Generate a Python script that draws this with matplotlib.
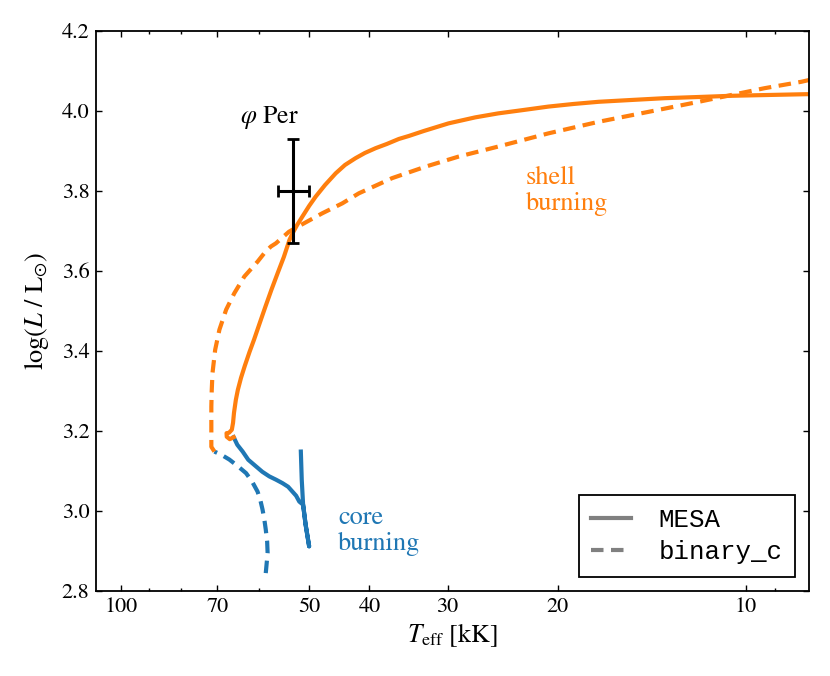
import numpy as np
import matplotlib
matplotlib.use('Agg')
import matplotlib.pyplot as plt
from matplotlib.ticker import FixedLocator, FixedFormatter, NullFormatter

matplotlib.rcParams['font.family'] = 'STIXGeneral'
matplotlib.rcParams['mathtext.fontset'] = 'stix'

# ── track data: Teff in kK, log L / Lsun ─────────────────────────────
# MESA, core burning (blue, solid)
mesa_core_T = [51.5, 51.33, 51.07, 50.6, 49.95, 50.6, 51.07, 51.8, 52.4, 53.97,
               55.1, 56.4, 57.85, 59.35, 60.75, 62.5, 63.8, 65.07, 65.95]
mesa_core_L = [3.148, 3.078, 3.015, 2.965, 2.911, 2.965, 3.015, 3.023, 3.0375,
               3.06, 3.069, 3.0775, 3.086, 3.0975, 3.111, 3.1275, 3.148, 3.165,
               3.184]

# MESA, shell burning (orange, solid)
mesa_shell_T = [65.95, 66.9, 67.65, 67.7, 67.1, 66.4, 66.1, 65.87, 65.42, 64.94,
                64.19, 63.3, 62.2, 61.2, 59.9, 58.66, 57.4, 56.1, 54.82, 53.7,
                53.1, 52.2, 51.2, 49.95, 48.75, 47.1, 45.3, 43.77, 42.1, 40.68,
                39.1, 37.52, 35.9, 34.6, 32.74, 29.9, 27.1, 24.9, 22.68, 20.7,
                18.88, 17.2, 15.26, 13.5, 11.9, 10.55, 9.22, 8.01, 7.9]
mesa_shell_L = [3.184, 3.179, 3.185, 3.194, 3.195, 3.2025, 3.22, 3.245, 3.2775,
                3.3025, 3.3325, 3.3625, 3.3975, 3.4275, 3.47, 3.511, 3.5525, 3.594,
                3.635, 3.6775, 3.694, 3.715, 3.736, 3.7625, 3.786, 3.815, 3.844,
                3.865, 3.882, 3.895, 3.907, 3.9175, 3.93, 3.9375, 3.95, 3.969,
                3.984, 3.994, 4.0025, 4.011, 4.0175, 4.023, 4.0275, 4.032, 4.035,
                4.038, 4.04, 4.042, 4.042]

# binary_c, core burning (blue, dashed)
bc_core_T = [58.6, 58.2, 58.3, 58.6, 58.9, 59.3, 59.8, 60.4, 61.6, 63.0, 65.07,
             67.0, 69.0, 70.8]
bc_core_L = [2.844, 2.894, 2.9225, 2.953, 2.9775, 3.003, 3.0275, 3.048, 3.0725,
             3.094, 3.1125, 3.128, 3.14, 3.148]

# binary_c, shell burning (orange, dashed)
bc_shell_T = [70.8, 71.6, 71.6, 71.6, 71.5, 71.3, 70.6, 69.5, 67.8, 65.8, 63.4,
              60.4, 58.7, 57.5, 56.45, 53.8, 51.8, 47.6, 44.2, 41.6, 36.8, 32.5,
              28.8, 24.9, 20.7, 17.2, 14.3, 11.9, 10.55, 9.34, 8.16, 7.9]
bc_shell_L = [3.148, 3.16, 3.21, 3.26, 3.30, 3.344, 3.4025, 3.453, 3.503, 3.544,
              3.586, 3.623, 3.6475, 3.661, 3.669, 3.698, 3.7125, 3.744, 3.769,
              3.794, 3.832, 3.861, 3.886, 3.911, 3.944, 3.973, 3.998, 4.023,
              4.04, 4.057, 4.073, 4.078]

# phi Per observation
phiper_T, phiper_Terr = 53.0, 3.0
phiper_L, phiper_Lerr = 3.80, 0.13

xticks_major = [100, 70, 50, 40, 30, 20, 10]
xticks_minor = [90, 80, 60, 9]
yticks = [2.8, 3.0, 3.2, 3.4, 3.6, 3.8, 4.0, 4.2]

BLUE = '#1f77b4'
ORANGE = '#ff7f0e'
DASH = (0, (3.0, 1.8))

# ── figure ───────────────────────────────────────────────────────────
fig = plt.figure(figsize=(8.3, 6.76), dpi=100)
ax = fig.add_axes([0.1153, 0.1262, 0.859, 0.8279])

ax.plot(mesa_core_T, mesa_core_L, color=BLUE, lw=3, solid_joinstyle='round')
ax.plot(mesa_shell_T, mesa_shell_L, color=ORANGE, lw=3, solid_joinstyle='round')
ax.plot(bc_core_T, bc_core_L, color=BLUE, lw=3, ls=DASH)
ax.plot(bc_shell_T, bc_shell_L, color=ORANGE, lw=3, ls=DASH)

ax.errorbar([phiper_T], [phiper_L], xerr=phiper_Terr, yerr=phiper_Lerr,
            color='k', elinewidth=2.2, capsize=4, capthick=2, fmt='none')

# multi-line texts: anchored at the baseline of their last line
ax.text(57.85, 3.971, r'$\varphi$ Per', ha='center', va='baseline', fontsize=18.5)
ax.text(22.5, 3.7525, 'shell\nburning', color=ORANGE, ha='left', va='baseline',
        fontsize=19, linespacing=1.1)
ax.text(44.9, 2.9025, 'core\nburning', color=BLUE, ha='left', va='baseline',
        fontsize=19, linespacing=1.1)

# legend with grey proxy lines
ax.plot([], [], color='grey', lw=3, label='MESA')
ax.plot([], [], color='grey', lw=3, ls=DASH, label='binary_c')
leg = ax.legend(loc='lower right', prop={'family': 'Liberation Mono', 'size': 18.5},
                fancybox=False, framealpha=1, edgecolor='k',
                handlelength=1.55, handletextpad=1.05, borderpad=0.5,
                labelspacing=0.33, borderaxespad=0.53)
leg.get_frame().set_linewidth(1.3)

ax.set_xscale('log')
ax.set_xlim(109.6, 7.94)
ax.set_ylim(2.8, 4.2)
ax.xaxis.set_major_locator(FixedLocator(xticks_major))
ax.xaxis.set_major_formatter(FixedFormatter([str(t) for t in xticks_major]))
ax.xaxis.set_minor_locator(FixedLocator(xticks_minor))
ax.xaxis.set_minor_formatter(NullFormatter())
ax.set_yticks(yticks)
ax.set_yticklabels(['%.1f' % t for t in yticks])

ax.tick_params(which='both', direction='in', top=True, right=True, labelsize=16)
ax.tick_params(which='major', length=4.5, width=1.0)
ax.tick_params(which='minor', length=2.3, width=1.0)
ax.tick_params(axis='x', which='major', pad=5)
ax.tick_params(axis='y', which='major', pad=4.5)
for sp in ax.spines.values():
    sp.set_linewidth(1.3)

ax.set_xlabel(r'$T_{\rm eff}$ [kK]', fontsize=18.5, labelpad=3)
ax.set_ylabel(r'$\log(L\ /\ \mathrm{L}_{\odot})$', fontsize=19, labelpad=8)

fig.savefig('out.png', dpi=100)
